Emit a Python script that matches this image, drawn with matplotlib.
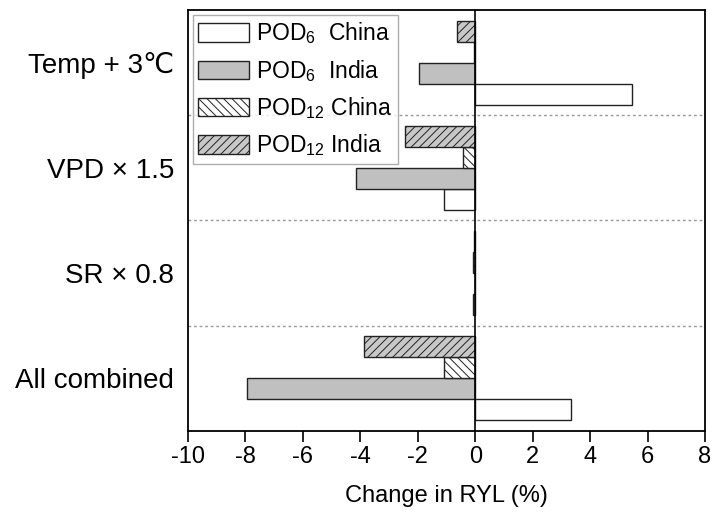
import matplotlib
matplotlib.use("Agg")
import matplotlib.pyplot as plt
import numpy as np

plt.rcParams['font.family'] = ['Liberation Sans', 'DejaVu Sans']
plt.rcParams['mathtext.fontset'] = 'custom'
plt.rcParams['mathtext.rm'] = 'Liberation Sans'
plt.rcParams['mathtext.it'] = 'Liberation Sans'
plt.rcParams['axes.unicode_minus'] = False
plt.rcParams['hatch.linewidth'] = 0.7

categories = ["Temp + 3\u2103", "VPD \u00d7 1.5", "SR \u00d7 0.8", "All combined"]
pod6_china = [5.45, -1.10, -0.08, 3.35]
pod6_india = [-1.95, -4.15, -0.02, -7.95]
pod12_china = [-0.05, -0.42, -0.08, -1.08]
pod12_india = [-0.62, -2.45, -0.03, -3.88]

series = [
    ("POD$_{6}$  China", pod6_china, dict(facecolor='white', hatch=None), -0.3),
    ("POD$_{6}$  India", pod6_india, dict(facecolor='#c0c0c0', hatch=None), -0.1),
    ("POD$_{12}$ China", pod12_china, dict(facecolor='white', hatch='\\\\\\\\'), 0.1),
    ("POD$_{12}$ India", pod12_india, dict(facecolor='#c8c8c8', hatch='////'), 0.3),
]

fig = plt.figure(figsize=(7.16, 5.23), dpi=100)
ax = fig.add_axes([0.2626, 0.1759, 0.722, 0.805])

n = len(categories)
centers = np.arange(n)[::-1] + 0.5
handles = {}
for label, vals, style, off in series:
    b = ax.barh(centers + off, vals, height=0.2, edgecolor='#222222', linewidth=1.0,
                label=label, **style)
    handles[label] = b

ax.axvline(0, color='black', linewidth=1.2, zorder=3)
for yb in [1, 2, 3]:
    ax.axhline(yb, color='#999999', linestyle=(0, (2, 2)), linewidth=1.0, zorder=0)

ax.set_xlim(-10, 8)
ax.set_ylim(0, 4)
ax.set_xticks(np.arange(-10, 9, 2))
ax.set_yticks(centers)
ax.set_yticklabels(categories, fontsize=20)
ax.tick_params(axis='y', length=0, pad=10)
ax.tick_params(axis='x', direction='out', length=8, width=1.2, labelsize=17, pad=3)
ax.set_xlabel("Change in RYL (%)", fontsize=17, labelpad=12)
for s in ax.spines.values():
    s.set_linewidth(1.3)

order = ["POD$_{6}$  China", "POD$_{6}$  India", "POD$_{12}$ China", "POD$_{12}$ India"]
leg = ax.legend([handles[k] for k in order], order, loc='upper left', fontsize=16.5,
                frameon=True, fancybox=False, edgecolor='#999999', handlelength=2.2,
                handleheight=0.85, borderaxespad=0.2, labelspacing=0.5, handletextpad=0.3,
                borderpad=0.25)
leg.get_frame().set_linewidth(1.0)

fig.savefig("out.png", dpi=100)
